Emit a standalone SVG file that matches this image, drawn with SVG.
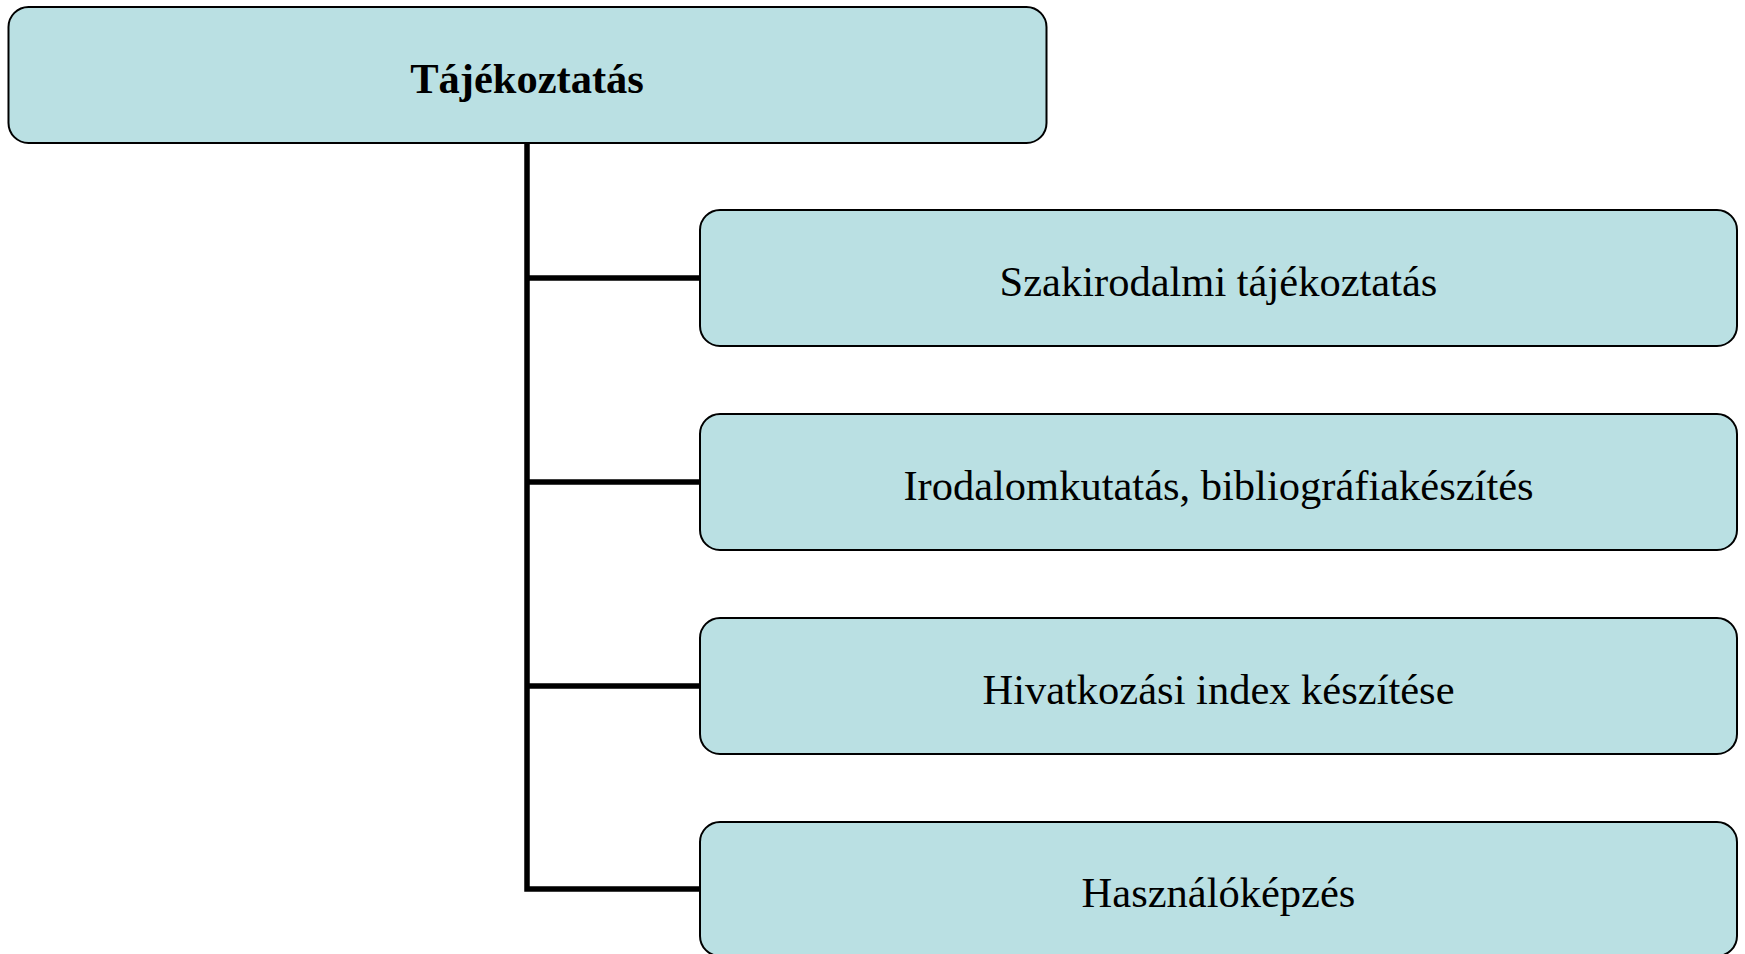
<svg xmlns="http://www.w3.org/2000/svg" width="1745" height="954" viewBox="0 0 1745 954">
<style>
.box{fill:#BAE0E3;stroke:#000;stroke-width:2}
.lbl{font-family:"Liberation Serif","Times New Roman",serif;font-size:42.5px;fill:#000;text-anchor:middle}
.b{font-weight:bold}
.conn{stroke:#000;stroke-width:5.5;fill:none}
</style>
<rect width="1745" height="954" fill="#fff"/>
<g id="connectors">
<path class="conn" d="M527 143 V889 H700"/>
<path class="conn" d="M527 278 H700 M527 482 H700 M527 686 H700"/>
</g>
<g id="root">
<rect class="box" x="8.5" y="7" width="1038" height="136" rx="20"/>
<text class="lbl b" x="527" y="93">Tájékoztatás</text>
</g>
<g id="n1">
<rect class="box" x="700" y="210" width="1037" height="136" rx="20"/>
<text class="lbl" x="1218.5" y="296">Szakirodalmi tájékoztatás</text>
</g>
<g id="n2">
<rect class="box" x="700" y="414" width="1037" height="136" rx="20"/>
<text class="lbl" x="1218.5" y="500">Irodalomkutatás, bibliográfiakészítés</text>
</g>
<g id="n3">
<rect class="box" x="700" y="618" width="1037" height="136" rx="20"/>
<text class="lbl" x="1218.5" y="704">Hivatkozási index készítése</text>
</g>
<g id="n4">
<rect class="box" x="700" y="822" width="1037" height="134" rx="20"/>
<text class="lbl" x="1218.5" y="907">Használóképzés</text>
</g>
</svg>
